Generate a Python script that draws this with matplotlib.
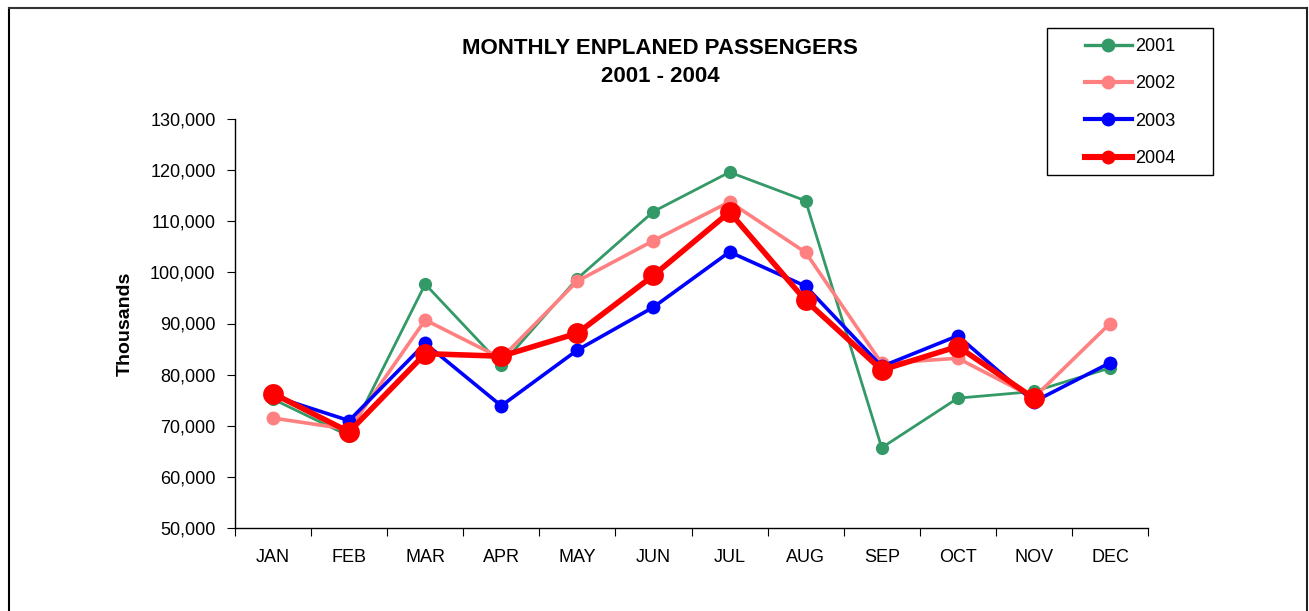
import matplotlib
matplotlib.use("Agg")
import matplotlib.pyplot as plt
import numpy as np
from matplotlib.lines import Line2D
from matplotlib.patches import Rectangle
from matplotlib.ticker import StrMethodFormatter, FixedLocator

plt.rcParams["font.family"] = ["Liberation Sans", "DejaVu Sans"]

MONTHS = ["JAN", "FEB", "MAR", "APR", "MAY", "JUN",
          "JUL", "AUG", "SEP", "OCT", "NOV", "DEC"]

Y2001 = [75200, 68000, 97700, 81900, 98800, 111900,
         119600, 114000, 65700, 75400, 76700, 81300]
Y2002 = [71500, 69300, 90700, 83200, 98300, 106200,
         113800, 103900, 82200, 83200, 75500, 90000]
Y2003 = [75800, 71000, 86100, 73900, 84800, 93200,
         104000, 97300, 81600, 87600, 74700, 82300]
Y2004 = [76300, 68800, 84100, 83600, 88100, 99400,
         111800, 94500, 80900, 85500, 75400, np.nan]

# name, values, colour, line width, marker size
SERIES = [
    ("2001", Y2001, "#339966", 2.0, 9.5),
    ("2002", Y2002, "#FF8080", 2.6, 10.0),
    ("2003", Y2003, "#0000FF", 2.6, 10.0),
    ("2004", Y2004, "#FF0000", 4.0, 15.0),
]

W, H = 1309, 611
fig = plt.figure(figsize=(W / 100, H / 100), dpi=100)
ax = fig.add_axes([235 / W, 1 - 528 / H, 913 / W, 409 / H])

x = np.arange(len(MONTHS))
handles = []
for name, vals, col, lw, ms in SERIES:
    ax.plot(x, vals, color=col, lw=lw, marker="o", ms=ms,
            markeredgewidth=0, solid_joinstyle="round")
    # legend markers are all drawn the same size in the original
    handles.append(Line2D([], [], color=col, lw=lw + 0.4, marker="o", ms=10,
                          markeredgewidth=0, label=name))

ax.set_xlim(-0.5, len(MONTHS) - 0.5)
ax.set_ylim(50000, 130000)
ax.yaxis.set_major_locator(FixedLocator(np.arange(50000, 130001, 10000)))
ax.yaxis.set_major_formatter(StrMethodFormatter("{x:,.0f}"))
ax.xaxis.set_major_locator(FixedLocator(np.arange(-0.5, len(MONTHS), 1.0)))
ax.xaxis.set_major_formatter(plt.NullFormatter())
ax.xaxis.set_minor_locator(FixedLocator(x))
ax.set_xticklabels(MONTHS, minor=True)
ax.tick_params(axis="x", which="minor", length=0, labelsize=13, pad=15)
ax.tick_params(axis="x", which="major", length=6, direction="out")
ax.tick_params(axis="y", length=6, direction="out", labelsize=13, pad=8)

for side in ("top", "right"):
    ax.spines[side].set_visible(False)
for side in ("left", "bottom"):
    ax.spines[side].set_linewidth(1.0)

ax.set_ylabel("Thousands", fontsize=14, fontweight="bold", labelpad=12)

fig.text(660 / W, 1 - 48 / H, "MONTHLY ENPLANED PASSENGERS",
         ha="center", va="center", fontsize=16, fontweight="bold")
fig.text(660 / W, 1 - 76 / H, "2001 - 2004",
         ha="center", va="center", fontsize=16, fontweight="bold")

# legend box
fig.add_artist(Rectangle((1047 / W, 1 - 175 / H), 166 / W, 147 / H,
                         transform=fig.transFigure, fill=False,
                         edgecolor="black", lw=1.0))
fig.legend(handles=handles, loc="upper left",
           bbox_to_anchor=(1085 / W, 1 - 38 / H), bbox_transform=fig.transFigure,
           frameon=False, fontsize=13, handlelength=2.6, handletextpad=0.2,
           labelspacing=1.13, borderpad=0, borderaxespad=0, numpoints=1)

# outer chart frame
fig.add_artist(Line2D([9 / W, 9 / W], [0, 1 - 8 / H], transform=fig.transFigure,
                      color="black", lw=1.5))
fig.add_artist(Line2D([9 / W, 1307 / W], [1 - 8 / H, 1 - 8 / H],
                      transform=fig.transFigure, color="#333333", lw=1.5))
fig.add_artist(Line2D([1307 / W, 1307 / W], [0, 1 - 8 / H], transform=fig.transFigure,
                      color="#222222", lw=1.5))

fig.savefig("out.png", dpi=100)
